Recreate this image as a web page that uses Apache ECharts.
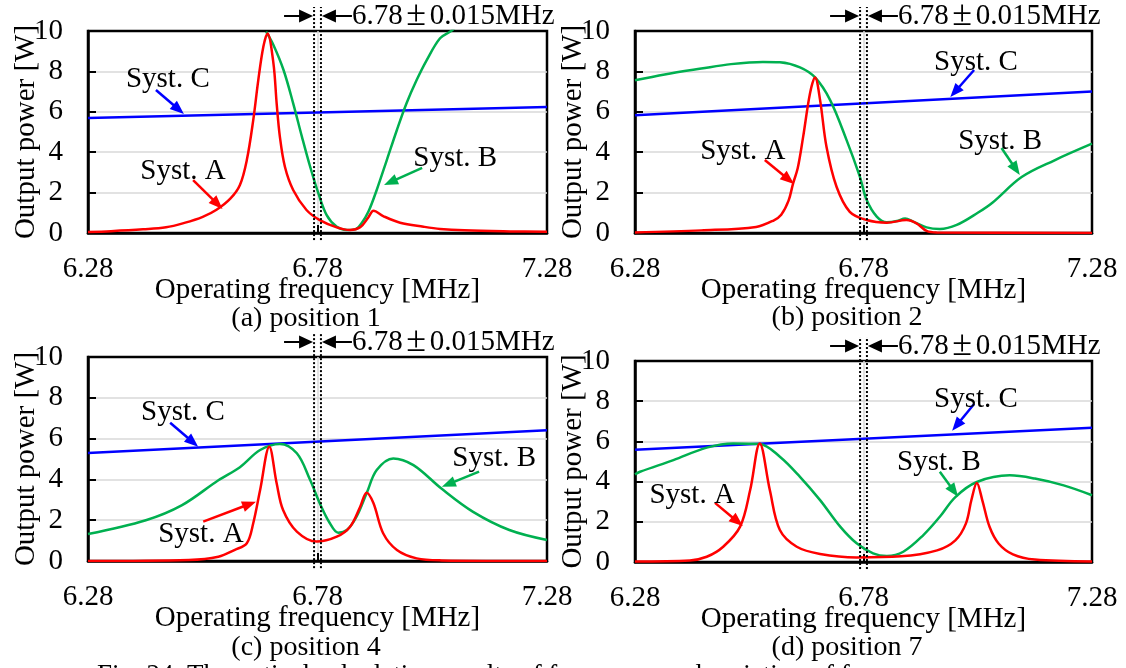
<!DOCTYPE html>
<html>
<head>
<meta charset="utf-8">
<script src="https://cdn.jsdelivr.net/npm/echarts@6/dist/echarts.min.js"></script>
<style>
html,body{margin:0;padding:0;background:#fff}
#main{width:1126px;height:668px}
</style>
</head>
<body>
<div id="main"></div>
<script>
var xTicks = [6.28, 6.78, 7.28];
var bandEdges = [6.7725, 6.7875];
var captions = ["(a) position 1", "(b) position 2", "(c) position 4", "(d) position 7"];

// position 1
var pos1C = [[6.28,5.69],[7.28,6.24]];
var pos1B = [[6.668,9.97],[6.684,9.31],[6.706,8.07],[6.727,6.42],[6.746,4.77],[6.764,3.28],[6.782,1.96],[6.800,0.89],[6.822,0.31],[6.844,0.15],[6.862,0.18],[6.876,0.48],[6.891,1.06],[6.909,2.13],[6.931,3.61],[6.953,5.10],[6.974,6.42],[6.996,7.57],[7.018,8.56],[7.047,9.64],[7.071,10.0],[7.09,10.4]];
var pos1A = [[6.28,0.05],[6.33,0.09],[6.40,0.18],[6.45,0.28],[6.49,0.5],[6.53,0.8],[6.56,1.15],[6.59,1.7],[6.611,2.38],[6.626,3.61],[6.640,5.59],[6.651,7.57],[6.662,9.22],[6.671,9.88],[6.684,8.40],[6.691,6.42],[6.698,4.77],[6.709,3.28],[6.727,2.13],[6.756,1.14],[6.785,0.64],[6.822,0.28],[6.851,0.15],[6.873,0.28],[6.891,0.78],[6.902,1.10],[6.923,0.84],[6.960,0.51],[7.011,0.31],[7.047,0.20],[7.10,0.13],[7.20,0.08],[7.28,0.06]];

// position 2
var pos2C = [[6.28,5.83],[7.28,7.01]];
var pos2B = [[6.28,7.56],[6.345,7.85],[6.425,8.14],[6.49,8.36],[6.56,8.47],[6.597,8.45],[6.641,8.20],[6.674,7.70],[6.707,6.58],[6.743,4.60],[6.772,2.79],[6.787,1.63],[6.809,0.81],[6.831,0.53],[6.853,0.59],[6.871,0.72],[6.889,0.56],[6.918,0.28],[6.947,0.20],[6.984,0.40],[7.03,1.0],[7.062,1.5],[7.126,2.77],[7.198,3.60],[7.28,4.42]];
var pos2A = [[6.28,0.03],[6.425,0.13],[6.545,0.30],[6.584,0.63],[6.60,0.9],[6.616,1.6],[6.626,2.46],[6.636,3.2],[6.648,4.77],[6.663,6.92],[6.674,7.70],[6.685,6.58],[6.699,4.27],[6.721,2.29],[6.750,1.05],[6.787,0.64],[6.831,0.51],[6.874,0.64],[6.896,0.48],[6.918,0.10],[6.94,0.02],[7.28,0.0]];

// position 4
var pos4C = [[6.28,5.30],[7.28,6.41]];
var pos4B = [[6.28,1.32],[6.406,2.00],[6.485,2.74],[6.564,3.96],[6.611,4.6],[6.655,5.44],[6.698,5.74],[6.735,5.28],[6.764,3.97],[6.785,2.83],[6.807,1.85],[6.825,1.39],[6.844,1.52],[6.865,2.17],[6.887,3.32],[6.909,4.46],[6.945,5.03],[6.989,4.70],[7.05,3.55],[7.119,2.41],[7.198,1.52],[7.28,1.03]];
var pos4A = [[6.28,0.0],[6.50,0.05],[6.564,0.21],[6.60,0.55],[6.626,0.87],[6.640,1.85],[6.655,3.48],[6.675,5.60],[6.691,3.81],[6.705,2.50],[6.735,1.44],[6.778,0.95],[6.822,1.19],[6.851,1.68],[6.873,2.66],[6.887,3.35],[6.902,2.83],[6.923,1.36],[6.953,0.54],[6.996,0.13],[7.05,0.03],[7.28,0.0]];

// position 7
var pos7C = [[6.28,5.59],[7.28,6.68]];
var pos7B = [[6.28,4.36],[6.291,4.49],[6.364,5.07],[6.437,5.69],[6.495,5.90],[6.553,5.87],[6.597,5.24],[6.641,4.24],[6.685,3.08],[6.729,1.76],[6.765,0.93],[6.801,0.43],[6.831,0.30],[6.867,0.51],[6.911,1.34],[6.947,2.25],[6.981,3.23],[7.028,3.98],[7.10,4.31],[7.155,4.15],[7.218,3.81],[7.28,3.32]];
var pos7A = [[6.28,0.03],[6.40,0.08],[6.437,0.26],[6.473,0.76],[6.51,1.76],[6.532,3.58],[6.553,5.90],[6.575,3.58],[6.597,1.59],[6.634,0.76],[6.685,0.40],[6.765,0.23],[6.862,0.28],[6.941,0.58],[6.981,1.08],[7.004,1.91],[7.016,3.07],[7.028,3.93],[7.04,3.07],[7.056,1.74],[7.076,0.91],[7.107,0.38],[7.155,0.12],[7.28,0.03]];

var RED = "#ff0000", GREEN = "#00b050", BLUE = "#0000ff";
var FONT = "Liberation Serif";

// callouts: label, label centre, arrow tail, arrow tip (data units)
var notes1 = [
    {text: "Syst. C", at: [6.454, 7.62], from: [6.428, 7.08], to: [6.489, 5.89], color: BLUE},
    {text: "Syst. A", at: [6.487, 3.07], from: [6.509, 2.62], to: [6.573, 1.19], color: RED},
    {text: "Syst. B", at: [7.080, 3.71], from: [7.008, 3.22], to: [6.925, 2.38], color: GREEN}
];
var notes2 = [
    {text: "Syst. C", at: [7.026, 8.47], from: [7.022, 8.07], to: [6.970, 6.73], color: BLUE},
    {text: "Syst. A", at: [6.516, 4.06], from: [6.564, 3.61], to: [6.628, 2.43], color: RED},
    {text: "Syst. B", at: [7.079, 4.55], from: [7.082, 4.21], to: [7.122, 2.87], color: GREEN}
];
var notes4 = [
    {text: "Syst. C", at: [6.487, 7.30], from: [6.459, 6.78], to: [6.520, 5.60], color: BLUE},
    {text: "Syst. A", at: [6.526, 1.32], from: [6.531, 1.93], to: [6.646, 2.91], color: RED},
    {text: "Syst. B", at: [7.165, 5.05], from: [7.132, 4.38], to: [7.051, 3.64], color: GREEN}
];
var notes7 = [
    {text: "Syst. C", at: [7.026, 8.11], from: [7.022, 7.86], to: [6.974, 6.53], color: BLUE},
    {text: "Syst. A", at: [6.405, 3.33], from: [6.455, 2.94], to: [6.516, 1.79], color: RED},
    {text: "Syst. B", at: [6.945, 4.98], from: [6.947, 4.49], to: [6.987, 3.25], color: GREEN}
];

var panels = [
    {left: 88, top: 31, width: 459, height: 202, sub: [306, 319], A: pos1A, B: pos1B, C: pos1C, notes: notes1},
    {left: 635, top: 31, width: 457, height: 202, sub: [847, 318], A: pos2A, B: pos2B, C: pos2C, notes: notes2},
    {left: 88, top: 357, width: 459, height: 204, sub: [306, 648], A: pos4A, B: pos4B, C: pos4C, notes: notes4},
    {left: 635, top: 361, width: 457, height: 201, sub: [847, 648], A: pos7A, B: pos7B, C: pos7C, notes: notes7}
];

function arrow(p1, p2, color, headLen, headW, lw) {
    var dx = p2[0] - p1[0], dy = p2[1] - p1[1];
    var len = Math.sqrt(dx * dx + dy * dy);
    var ux = dx / len, uy = dy / len;
    var bx = p2[0] - ux * headLen, by = p2[1] - uy * headLen;
    return [
        {type: "line", shape: {x1: p1[0], y1: p1[1], x2: bx + ux, y2: by + uy}, style: {stroke: color, lineWidth: lw}},
        {type: "polygon", shape: {points: [p2, [bx - uy * headW / 2, by + ux * headW / 2], [bx + uy * headW / 2, by - ux * headW / 2]]}, style: {fill: color}}
    ];
}

function calloutRenderer(list) {
    return function(params, api) {
        var n = list[params.dataIndex];
        var t = api.coord(n.at), a = api.coord(n.from), b = api.coord(n.to);
        var kids = arrow(a, b, n.color, 14, 11, 2.5);
        kids.push({type: "text", style: {text: n.text, x: t[0], y: t[1], align: "center", verticalAlign: "middle", fill: "#000", font: "29px '" + FONT + "'"}});
        return {type: "group", children: kids};
    };
}

function bandRenderer(params, api) {
    var l0 = api.coord([bandEdges[0], -0.35]), l1 = api.coord([bandEdges[0], 10]);
    var r0 = api.coord([bandEdges[1], -0.35]);
    var topY = l1[1] - 24;
    var y = l1[1] - 15;
    var kids = [
        {type: "line", shape: {x1: l0[0], y1: l0[1], x2: l0[0], y2: topY}, style: {stroke: "#000", lineWidth: 2, lineDash: [2, 2]}},
        {type: "line", shape: {x1: r0[0], y1: r0[1], x2: r0[0], y2: topY}, style: {stroke: "#000", lineWidth: 2, lineDash: [2, 2]}}
    ];
    kids = kids.concat(arrow([l0[0] - 30, y], [l0[0] - 1, y], "#000", 14, 13, 2));
    kids = kids.concat(arrow([r0[0] + 31, y], [r0[0] + 1, y], "#000", 14, 13, 2));
    kids.push({type: "text", style: {
        text: "{a|6.78}{pm|±}{a|0.015MHz}", x: r0[0] + 31, y: y, align: "left", verticalAlign: "middle",
        rich: {a: {fontFamily: FONT, fontSize: 29, fill: "#000"}, pm: {fontFamily: FONT, fontSize: 36, width: 27, align: "center", fill: "#000"}}
    }});
    return {type: "group", children: kids};
}

var textStyle = {color: "#000", fontFamily: FONT, fontSize: 29};
var option = {animation: false, grid: [], xAxis: [], yAxis: [], series: [], graphic: []};

panels.forEach(function(p, i) {
    option.grid.push({left: p.left, top: p.top, width: p.width, height: p.height, show: true, borderColor: "#000", borderWidth: 2.5});
    option.xAxis.push({
        type: "value", gridIndex: i, min: 6.28, max: 7.28,
        name: "Operating frequency [MHz]", nameLocation: "middle", nameGap: 43, nameMoveOverlap: false, nameTextStyle: textStyle,
        axisLine: {lineStyle: {color: "#000", width: 2.5}},
        axisTick: {inside: true, length: 8, customValues: xTicks, lineStyle: {color: "#000", width: 2}},
        axisLabel: {customValues: xTicks, margin: 22, showMinLabel: true, showMaxLabel: true, color: "#000", fontFamily: FONT, fontSize: 29,
            formatter: function(v) { return v.toFixed(2); }},
        splitLine: {show: true, showMinLine: false, showMaxLine: false, lineStyle: {color: "#d9d9d9", width: 1.5}}
    });
    option.yAxis.push({
        type: "value", gridIndex: i, min: 0, max: 10, interval: 2,
        name: "Output power [W]", nameLocation: "middle", nameGap: 47, nameMoveOverlap: false, nameTextStyle: textStyle,
        axisLine: {lineStyle: {color: "#000", width: 2.5}},
        axisTick: {inside: true, length: 8, lineStyle: {color: "#000", width: 2}},
        axisLabel: {margin: 25, color: "#000", fontFamily: FONT, fontSize: 29},
        splitLine: {show: true, showMinLine: false, showMaxLine: false, lineStyle: {color: "#d9d9d9", width: 1.5}}
    });
    [["Syst. C", p.C, BLUE, false], ["Syst. B", p.B, GREEN, 0.35], ["Syst. A", p.A, RED, 0.35]].forEach(function(s) {
        option.series.push({
            name: s[0], type: "line", xAxisIndex: i, yAxisIndex: i, data: s[1],
            showSymbol: false, smooth: s[3], clip: true,
            lineStyle: {color: s[2], width: 2.5}, z: 3
        });
    });
    option.series.push({type: "custom", xAxisIndex: i, yAxisIndex: i, data: [[6.78, 10]], renderItem: bandRenderer, silent: true, z: 4});
    option.series.push({type: "custom", xAxisIndex: i, yAxisIndex: i, data: p.notes.map(function(n) { return n.from; }),
        renderItem: calloutRenderer(p.notes), silent: true, z: 5});
    option.graphic.push({type: "text", x: p.sub[0], y: p.sub[1], style: {text: captions[i], align: "center", verticalAlign: "middle", fill: "#000", font: "28px '" + FONT + "'"}});
});
option.graphic.push({type: "text", x: 97, y: 662, style: {text: "Fig. 24. Theoretical calculation results of frequency and variation of frequency", align: "left", verticalAlign: "top", fill: "#000", font: "27px '" + FONT + "'"}});

var myChart = echarts.init(document.getElementById("main"));
myChart.setOption(option);
</script>
</body>
</html>
